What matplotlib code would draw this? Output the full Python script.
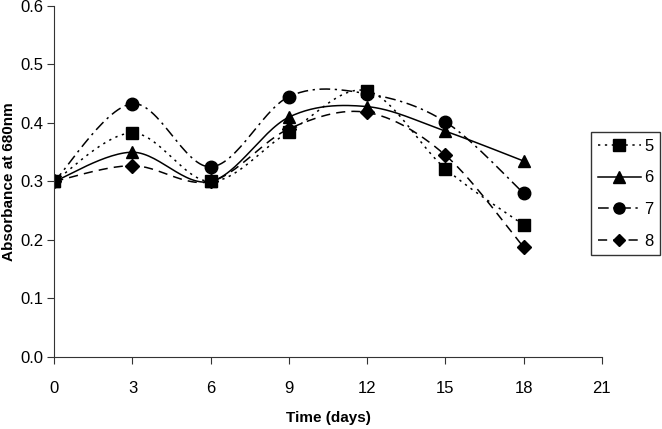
import numpy as np
import matplotlib.pyplot as plt

plt.rcParams['font.family'] = ['Liberation Sans', 'DejaVu Sans']

days = [0, 3, 6, 9, 12, 15, 18]
s5 = [0.300, 0.383, 0.300, 0.385, 0.455, 0.322, 0.226]
s6 = [0.300, 0.350, 0.300, 0.410, 0.428, 0.386, 0.335]
s7 = [0.300, 0.433, 0.325, 0.445, 0.450, 0.402, 0.280]
s8 = [0.300, 0.327, 0.300, 0.390, 0.418, 0.345, 0.188]
labels = ['5', '6', '7', '8']


def smooth(x, y, n=30):
    # Excel-style smoothed line (Catmull-Rom bezier)
    x = np.asarray(x, float)
    y = np.asarray(y, float)
    px, py = [], []
    for i in range(len(x) - 1):
        x0, y0 = (x[i - 1], y[i - 1]) if i > 0 else (x[i], y[i])
        x3, y3 = (x[i + 2], y[i + 2]) if i + 2 < len(x) else (x[i + 1], y[i + 1])
        c1x = x[i] + (x[i + 1] - x0) / 6
        c1y = y[i] + (y[i + 1] - y0) / 6
        c2x = x[i + 1] - (x3 - x[i]) / 6
        c2y = y[i + 1] - (y3 - y[i]) / 6
        t = np.linspace(0, 1, n)
        bx = (1-t)**3*x[i] + 3*(1-t)**2*t*c1x + 3*(1-t)*t**2*c2x + t**3*x[i+1]
        by = (1-t)**3*y[i] + 3*(1-t)**2*t*c1y + 3*(1-t)*t**2*c2y + t**3*y[i+1]
        px.extend(bx)
        py.extend(by)
    return px, py


fig = plt.figure(figsize=(6.62, 4.29), dpi=100)
ax = fig.add_axes([0.082, 0.168, 0.827, 0.818])

styles = [(s5, 's', (0, (1.5, 3))), (s6, '^', '-'), (s7, 'o', (0, (7, 3, 1.5, 3))), (s8, 'D', (0, (6, 4)))]
sizes = [9, 9, 9, 7.5]
for (ys, mk, ls), lab, ms in zip(styles, labels, sizes):
    sx, sy = smooth(days, ys)
    ax.plot(sx, sy, color='black', linestyle=ls, linewidth=1.1)
    ax.plot(days, ys, linestyle='none', marker=mk, color='black', markersize=ms)
    ax.plot([], [], color='black', linestyle=ls, linewidth=1.1, marker=mk, markersize=ms - 1, label=lab)

ax.set_xlim(0, 21)
ax.set_ylim(0, 0.6)
ax.set_xticks(range(0, 22, 3))
ax.set_yticks(np.arange(0, 0.61, 0.1))
ax.yaxis.set_major_formatter(plt.FormatStrFormatter('%.1f'))
ax.spines['top'].set_visible(False)
ax.spines['right'].set_visible(False)
for sp in ['left', 'bottom']:
    ax.spines[sp].set_color('#333333')
ax.tick_params(direction='out', length=5, color='#333333', labelsize=12, pad=12)
ax.tick_params(axis='y', pad=3)
ax.set_xlabel('Time (days)', fontweight='bold', fontsize=11, labelpad=11)
ax.set_ylabel('Absorbance at 680nm', fontweight='bold', fontsize=11, labelpad=3)

leg = fig.legend(loc='upper left', bbox_to_anchor=(591 / 662, 1 - 132 / 429), borderaxespad=0,
                 frameon=True, fancybox=False, edgecolor='black', fontsize=12,
                 handlelength=2.6, labelspacing=1.0, borderpad=0.4, handletextpad=0.2)
leg.get_frame().set_linewidth(1.0)

fig.savefig('out.png', dpi=100)
